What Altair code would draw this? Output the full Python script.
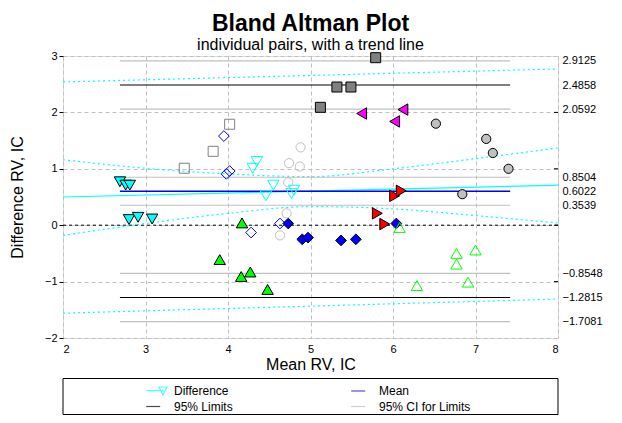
import altair as alt
import pandas as pd

FONT = "Liberation Sans"

# ---- point groups (Mean RV, IC ; Difference RV, IC) ----
dn_fill_x = [2.69, 2.76, 2.81, 2.80, 2.91, 3.08]
dn_fill_y = [0.77, 0.71, 0.71, 0.10, 0.14, 0.11]
dn_hollow_x = [4.35, 4.30, 4.55, 4.46, 4.80, 4.77]
dn_hollow_y = [1.13, 1.01, 0.71, 0.52, 0.62, 0.56]
dia_hollow_x = [3.95, 4.02, 3.98, 4.63, 4.28]
dia_hollow_y = [1.58, 0.96, 0.91, 0.03, -0.13]
dia_fill_x = [4.73, 4.90, 4.97, 5.37, 5.55, 6.04]
dia_fill_y = [0.03, -0.25, -0.22, -0.27, -0.25, 0.03]
sq_hollow_x = [3.47, 3.82, 4.02]
sq_hollow_y = [1.01, 1.31, 1.79]
sq_fill_x = [5.12, 5.32, 5.49, 5.79]
sq_fill_y = [2.09, 2.45, 2.45, 2.97]
circ_hollow_x = [4.88, 4.74, 4.87, 4.73, 4.71, 4.63]
circ_hollow_y = [1.38, 1.10, 1.04, 0.76, 0.21, -0.18]
circ_fill_x = [6.52, 7.13, 7.21, 7.40, 6.84]
circ_fill_y = [1.80, 1.53, 1.28, 1.00, 0.55]
left_x = [5.62, 6.12, 6.02]
left_y = [1.98, 2.05, 1.84]
right_x = [5.81, 5.90, 6.02, 6.10]
right_y = [0.21, 0.02, 0.52, 0.61]
up_fill_x = [4.17, 3.90, 4.16, 4.27, 4.48]
up_fill_y = [0.04, -0.61, -0.91, -0.83, -1.14]
up_hollow_x = [6.08, 6.29, 6.77, 6.77, 7.00, 6.91]
up_hollow_y = [-0.04, -1.07, -0.50, -0.69, -0.44, -1.01]

# ---- statistics lines ----
line_x_range = [2.69, 7.42]
mean_value = [0.6022]
limit_values = [2.4858, -1.2815]
ci_values = [2.9125, 2.0592, 0.8504, 0.3539, -0.8548, -1.7081]
right_labels = [2.9125, 2.4858, 2.0592, 0.8504, 0.6022, 0.3539, -0.8548, -1.2815, -1.7081]

# ---- trend line and its bands ----
trend_x = [2, 8]
trend_y = [0.50, 0.71]
band_x = [2, 3, 4, 5, 6, 7, 8]
band_upper = [1.16, 1.01, 0.91, 0.86, 1.00, 1.18, 1.37]
band_lower = [-0.18, 0.03, 0.21, 0.33, 0.29, 0.17, 0.04]
limit_trend_x = [2, 8]
upper_limit_trend = [2.54, 2.77]
lower_limit_trend = [-1.56, -1.31]

x_ticks = [2, 3, 4, 5, 6, 7, 8]
y_ticks = [-2, -1, 0, 1, 2, 3]
inner_ticks = [-1, 0, 1, 2]

# legend entries (listed column by column)
legend_labels = ["Difference", "95% Limits", "Mean", "95% CI for Limits"]
legend_colors = ["#00FFFF", "#000000", "#0000FF", "#C0C0C0"]
legend_paths = [
    "M-1.6,0H0.6M0,-0.45H1L0.5,0.55Z",
    "M-1.6,0H0.15",
    "M-1.6,0H0.15",
    "M-1.6,0H0.15",
]

XS = alt.Scale(domain=[2, 8], nice=False, zero=False)
YS = alt.Scale(domain=[-2, 3], nice=False, zero=False)

x_axis = alt.Axis(values=x_ticks, format="d", grid=True, gridColor="#C0C0C0",
                  gridDash=[4, 3], ticks=False, domain=False, labelPadding=5,
                  labelFont=FONT, labelFontSize=11, labelColor="black",
                  title="Mean RV, IC", titleFont=FONT, titleFontSize=16,
                  titleFontWeight="normal", titleColor="black", titlePadding=2)
y_axis = alt.Axis(values=y_ticks, format="d", grid=True, gridColor="#C0C0C0",
                  gridDash=[4, 3], tickSize=4, tickColor="black", domain=False,
                  labelPadding=2, labelFont=FONT, labelFontSize=11, labelColor="black",
                  title="Difference RV, IC", titleFont=FONT, titleFontSize=16,
                  titleFontWeight="normal", titleColor="black", titlePadding=19)
r_axis = alt.Axis(orient="right", values=right_labels, format=".4f", grid=False,
                  ticks=False, domain=False, labelPadding=4, labelFont=FONT,
                  labelFontSize=11, labelColor="black", title=None)


def X(field, axis=None):
    if axis is None:
        return alt.X(field, type="quantitative", scale=XS, axis=None)
    return alt.X(field, type="quantitative", scale=XS, axis=axis)


def Y(field, axis=None):
    if axis is None:
        return alt.Y(field, type="quantitative", scale=YS, axis=None)
    return alt.Y(field, type="quantitative", scale=YS, axis=axis)


layers = []

# grid/axes carrier
axis_df = pd.DataFrame({"x": [2, 8], "y": [-2, 3]})
layers.append(alt.Chart(axis_df).mark_point(opacity=0).encode(
    x=X("x", x_axis), y=Y("y", y_axis)))

# zero line
zero_df = pd.DataFrame({"x": [2], "x2": [8], "y": [0]})
layers.append(alt.Chart(zero_df).mark_rule(color="black", strokeDash=[3, 3], strokeWidth=1).encode(
    x=X("x"), x2="x2", y=Y("y")))

# bands
band_df = pd.DataFrame({"x": band_x, "up": band_upper, "lo": band_lower})
for col in ["up", "lo"]:
    layers.append(alt.Chart(band_df).mark_line(color="#00FFFF", strokeDash=[2, 3], strokeWidth=1.2,
                                                interpolate="monotone").encode(
        x=X("x"), y=Y(col)))
lt_df = pd.DataFrame({"x": limit_trend_x, "up": upper_limit_trend, "lo": lower_limit_trend})
for col in ["up", "lo"]:
    layers.append(alt.Chart(lt_df).mark_line(color="#00FFFF", strokeDash=[2, 3], strokeWidth=1.2).encode(
        x=X("x"), y=Y(col)))
tr_df = pd.DataFrame({"x": trend_x, "y": trend_y})
layers.append(alt.Chart(tr_df).mark_line(color="#00FFFF", strokeWidth=1.2).encode(
    x=X("x"), y=Y("y")))

# CI / limit / mean lines
def stat_df(vals):
    return pd.DataFrame({"x": [line_x_range[0]] * len(vals),
                         "x2": [line_x_range[1]] * len(vals), "y": vals})

layers.append(alt.Chart(stat_df(ci_values)).mark_rule(color="#C0C0C0", strokeWidth=1.2).encode(
    x=X("x"), x2="x2", y=Y("y", r_axis)))
layers.append(alt.Chart(stat_df(limit_values)).mark_rule(color="black", strokeWidth=1.2).encode(
    x=X("x"), x2="x2", y=Y("y")))
layers.append(alt.Chart(stat_df(mean_value)).mark_rule(color="#0000FF", strokeWidth=1.5).encode(
    x=X("x"), x2="x2", y=Y("y")))

# inward ticks on the right border
it_df = pd.DataFrame({"y": inner_ticks})
layers.append(alt.Chart(it_df).mark_rule(color="black").encode(
    x=alt.value(491), x2=alt.value(495), y=Y("y")))

# point groups
groups = [
    (dn_fill_x, dn_fill_y, "triangle-down", True, "#00FFFF", "black", 130),
    (dn_hollow_x, dn_hollow_y, "triangle-down", False, None, "#00FFFF", 130),
    (dia_hollow_x, dia_hollow_y, "diamond", False, None, "#0000FF", 115),
    (dia_fill_x, dia_fill_y, "diamond", True, "#0000FF", "black", 115),
    (sq_hollow_x, sq_hollow_y, "square", False, None, "#808080", 100),
    (sq_fill_x, sq_fill_y, "square", True, "#808080", "black", 100),
    (circ_hollow_x, circ_hollow_y, "circle", False, None, "#C0C0C0", 85),
    (circ_fill_x, circ_fill_y, "circle", True, "#C0C0C0", "black", 85),
    (left_x, left_y, "triangle-left", True, "#FF00FF", "black", 130),
    (right_x, right_y, "triangle-right", True, "#FF0000", "black", 130),
    (up_fill_x, up_fill_y, "triangle-up", True, "#00FF00", "black", 130),
    (up_hollow_x, up_hollow_y, "triangle-up", False, None, "#00FF00", 130),
]
for gx, gy, shape, filled, fill, stroke, size in groups:
    df = pd.DataFrame({"x": gx, "y": gy})
    if filled:
        mk = alt.Chart(df).mark_point(shape=shape, filled=True, fill=fill, stroke=stroke,
                                      strokeWidth=1, size=size, opacity=1)
    else:
        mk = alt.Chart(df).mark_point(shape=shape, filled=False, stroke=stroke,
                                      strokeWidth=1, size=size, opacity=1)
    layers.append(mk.encode(x=X("x"), y=Y("y")))

# legend entries (hidden symbols under the legend box; the legend shows them)
leg = alt.Legend(title=None, orient="none", legendX=87, legendY=325.5, columns=2,
                 columnPadding=115, rowPadding=0, padding=0, symbolSize=256,
                 symbolStrokeWidth=1.2, labelOffset=6, labelFont=FONT, labelFontSize=12,
                 labelColor="black", labelLimit=300)
leg_df = pd.DataFrame({"cat": legend_labels})
layers.append(alt.Chart(leg_df).mark_point(filled=False, size=256, strokeWidth=1.2).encode(
    x=alt.value(250), y=alt.value(340),
    color=alt.Color("cat:N", scale=alt.Scale(domain=legend_labels, range=legend_colors), legend=leg),
    shape=alt.Shape("cat:N", scale=alt.Scale(domain=legend_labels, range=legend_paths), legend=leg),
))

# legend box (covers the hidden symbols)
box_df = pd.DataFrame({"a": [0]})
layers.append(alt.Chart(box_df).mark_rect(fill="white", stroke="black", strokeWidth=1).encode(
    x=alt.value(0), x2=alt.value(495), y=alt.value(322.5), y2=alt.value(358.5)))

chart = alt.layer(*layers).resolve_axis(x="independent", y="independent").properties(
    width=495, height=282,
    autosize=alt.AutoSizeParams(type="none"),
    padding={"left": 55, "top": 48, "right": 56, "bottom": 77},
    title=alt.TitleParams(text="Bland Altman Plot", subtitle="individual pairs, with a trend line",
                          font=FONT, fontSize=23, fontWeight="bold", color="black",
                          subtitleFont=FONT, subtitleFontSize=16, subtitleColor="black",
                          anchor="middle", offset=-3, subtitlePadding=1),
).configure_view(stroke="black", strokeWidth=1).configure(background="white")

chart.save("out.html", embed_options={"renderer": "svg", "actions": False})
